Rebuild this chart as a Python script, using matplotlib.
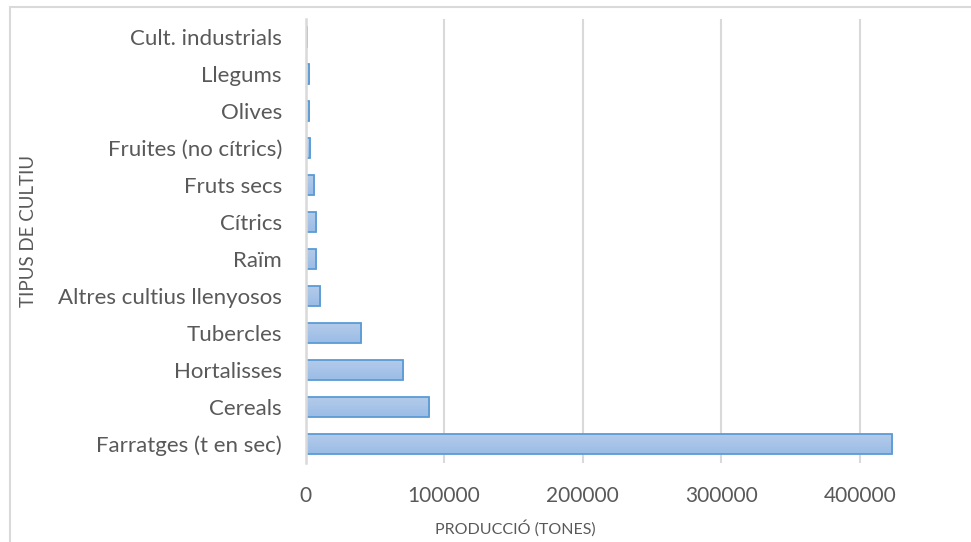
import matplotlib
matplotlib.use("Agg")
import matplotlib.pyplot as plt
from matplotlib.patches import Rectangle
import numpy as np

# dades llegides del gràfic (de baix a dalt)
cultius = ["Farratges (t en sec)", "Cereals", "Hortalisses", "Tubercles",
           "Altres cultius llenyosos", "Raïm", "Cítrics", "Fruts secs",
           "Fruites (no cítrics)", "Olives", "Llegums", "Cult. industrials"]
tones = [423500, 89000, 70200, 40300, 10800, 7800, 7300, 6300,
         3500, 2800, 2400, 900]
ticks_x = [0, 100000, 200000, 300000, 400000]

plt.rcParams['font.family'] = ['Lato', 'DejaVu Sans']
gris = '#595959'

fig = plt.figure(figsize=(9.71, 5.42), dpi=100)
ax = fig.add_axes([305.5 / 971, 1 - 462.5 / 542, 693 / 971, 444 / 542])

y = np.arange(len(cultius))
barres = ax.barh(y, tones, height=0.53, color='#a9c4e7',
                 edgecolor='#5b9bd5', linewidth=1.3, zorder=3)

# degradat dins de cada barra
grad = np.linspace(0, 1, 64).reshape(-1, 1)
cmap = matplotlib.colors.LinearSegmentedColormap.from_list('g', ['#b3cbea', '#9bbce6'])
for b in barres:
    x0, y0 = b.get_x(), b.get_y()
    w, h = b.get_width(), b.get_height()
    im = ax.imshow(grad, cmap=cmap, aspect='auto', origin='upper',
                   extent=(x0, x0 + w, y0, y0 + h), zorder=3.5)
    im.set_clip_path(b)
    b.set_facecolor('none')
    b.set_zorder(4)

ax.set_xlim(0, 500000)
ax.set_ylim(-0.5, len(cultius) - 0.5)
ax.set_xticks(ticks_x)
ax.set_yticks(y)
ax.set_yticklabels(cultius)
ax.tick_params(axis='both', length=0, colors=gris, labelsize=15)
ax.tick_params(axis='y', pad=17, labelsize=16)
ax.tick_params(axis='x', pad=17)
ax.grid(axis='x', color='#d9d9d9', linewidth=1.5, zorder=0)
for s in ['top', 'right', 'bottom']:
    ax.spines[s].set_visible(False)
ax.spines['left'].set_color('#d9d9d9')
ax.spines['left'].set_linewidth(1.8)
ax.spines['left'].set_zorder(5)

fig.text(29 / 971, 1 - 231 / 542, 'TIPUS DE CULTIU', rotation=90,
         ha='center', va='center', color=gris, fontsize=13.5)
fig.text(515 / 971, 1 - 528 / 542, 'PRODUCCIÓ (TONES)',
         ha='center', va='center', color=gris, fontsize=11.5)

# marc del gràfic
fig.patches.append(Rectangle((10 / 971, -0.1), 1.2, 1 - 7 / 542 + 0.1,
                             transform=fig.transFigure, fill=False,
                             edgecolor='#d9d9d9', linewidth=1.5))

fig.savefig('out.png', dpi=100)
